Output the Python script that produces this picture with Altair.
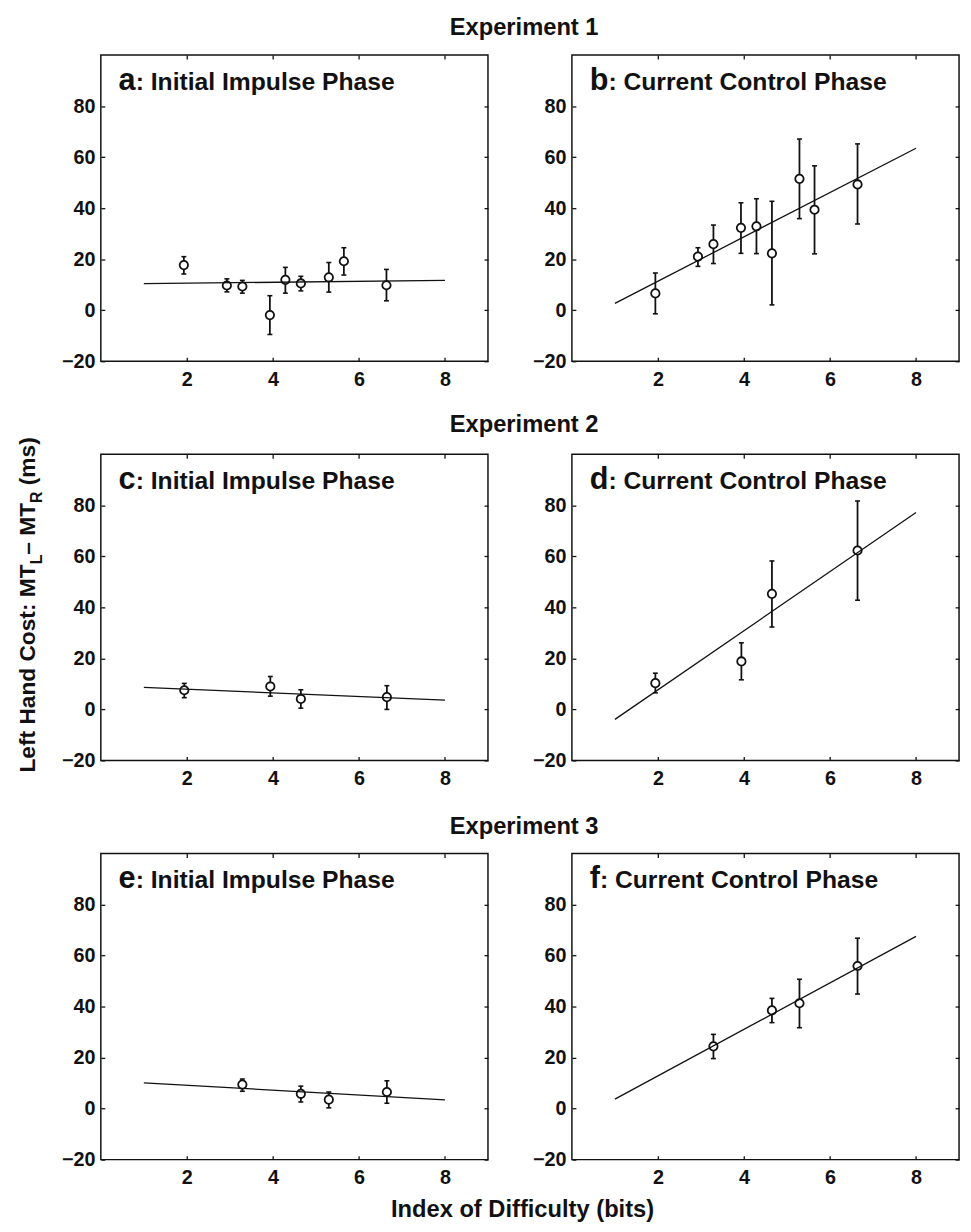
import altair as alt
import pandas as pd

# ---------------- data ----------------
FIT_X = [1, 8]
X_TICKS = [2, 4, 6, 8]
Y_TICKS = [-20, 0, 20, 40, 60, 80]

a_x = [1.93, 2.93, 3.29, 3.93, 4.29, 4.65, 5.30, 5.65, 6.64]
a_y = [17.7, 9.7, 9.3, -1.9, 11.9, 10.5, 12.9, 19.2, 9.8]
a_lo = [14.2, 7.2, 6.7, -9.5, 6.7, 7.6, 7.1, 13.8, 3.7]
a_hi = [21.0, 12.3, 11.7, 5.7, 16.8, 13.3, 18.7, 24.5, 16.0]
a_fit = [10.4, 11.7]

b_x = [1.94, 2.93, 3.29, 3.93, 4.29, 4.65, 5.29, 5.64, 6.64]
b_y = [6.6, 21.0, 25.9, 32.3, 32.9, 22.3, 51.5, 39.4, 49.3]
b_lo = [-1.4, 17.2, 18.3, 22.3, 22.2, 2.1, 35.9, 22.1, 33.8]
b_hi = [14.6, 24.5, 33.4, 42.1, 43.7, 42.7, 67.1, 56.6, 65.2]
b_fit = [2.7, 63.5]

c_x = [1.94, 3.94, 4.65, 6.65]
c_y = [7.5, 9.0, 4.1, 4.8]
c_lo = [4.6, 5.2, 0.5, 0.0]
c_hi = [10.2, 12.9, 7.7, 9.3]
c_fit = [8.6, 3.6]

d_x = [1.94, 3.94, 4.65, 6.64]
d_y = [10.3, 18.8, 45.3, 62.3]
d_lo = [6.5, 11.6, 32.3, 42.8]
d_hi = [14.2, 26.1, 58.2, 81.7]
d_fit = [-3.9, 77.2]

e_x = [3.29, 4.65, 5.30, 6.65]
e_y = [9.4, 5.8, 3.5, 6.5]
e_lo = [6.8, 2.6, 0.3, 2.1]
e_hi = [11.6, 8.8, 6.5, 10.9]
e_fit = [10.1, 3.4]

f_x = [3.29, 4.65, 5.29, 6.64]
f_y = [24.4, 38.5, 41.3, 55.9]
f_lo = [19.6, 33.7, 31.7, 44.9]
f_hi = [29.1, 43.2, 50.7, 66.8]
f_fit = [3.7, 67.5]

panel_letters = ["a", "b", "c", "d", "e", "f"]
panel_names = [": Initial Impulse Phase", ": Current Control Phase"] * 3
experiments = ["Experiment 1", "Experiment 2", "Experiment 3"]
x_title = "Index of Difficulty (bits)"
y_title_parts = ["Left Hand Cost: MT", "L", "– MT", "R", " (ms)"]

# ---------------- styling ----------------
FONT = "Liberation Sans"
INK = "#111111"
W, H = 392, 310
ROW_GAP = 94.2

# Helvetica/Arial bold advance widths (per 1000 em) for text placement
ADV = {'L': 611, 'e': 556, 'f': 333, 't': 333, ' ': 278, 'H': 722, 'a': 556,
       'n': 611, 'd': 611, 'C': 722, 'o': 611, 's': 556, ':': 333, 'M': 833,
       'T': 611, '–': 556, '(': 333, 'm': 889, ')': 333, 'R': 722, 'b': 611,
       'c': 556}


def tw(s, size):
    return sum(ADV.get(ch, 556) for ch in s) * size / 1000.0


XSC = alt.Scale(domain=[0, 9], nice=False, zero=False)
YSC = alt.Scale(domain=[-20, 100], nice=False, zero=False)


def ax(orient, values, labels=True):
    pad = 8.5 if orient == "bottom" else 6
    return alt.Axis(orient=orient, values=values, offset=-4, tickSize=4,
                    tickWidth=1.3, tickColor=INK, domain=False, grid=False,
                    title=None, labels=labels, format="d", labelFont=FONT,
                    labelFontSize=20, labelFontWeight="bold", labelColor=INK,
                    labelPadding=pad, labelOverlap=False)


def text_layer(txt, x, y, size, align="left", angle=0, baseline="alphabetic"):
    kw = dict(align=align, baseline=baseline, font=FONT, fontSize=size,
              fontWeight="bold", color=INK)
    if angle:
        kw["angle"] = angle
    return alt.Chart(pd.DataFrame({"t": [txt]})).mark_text(**kw).encode(
        x=alt.value(x), y=alt.value(y), text="t:N")


def panel(idx, xs, ys, lo, hi, fit, extra=()):
    pts = pd.DataFrame({"x": xs, "y": ys, "lo": lo, "hi": hi})
    fitdf = pd.DataFrame({"x": FIT_X, "y": fit})
    base = alt.Chart(pts)
    bars = base.mark_rule(color=INK, strokeWidth=1.8).encode(
        x=alt.X("x:Q", scale=XSC, axis=ax("bottom", X_TICKS)),
        y=alt.Y("lo:Q", scale=YSC, axis=ax("left", Y_TICKS)),
        y2="hi:Q")
    cap_lo = base.mark_tick(orient="horizontal", size=5, thickness=1.6,
                            color=INK, opacity=1).encode(
        x=alt.X("x:Q", axis=None), y=alt.Y("lo:Q", axis=None))
    cap_hi = base.mark_tick(orient="horizontal", size=5, thickness=1.6,
                            color=INK, opacity=1).encode(
        x=alt.X("x:Q", axis=None), y=alt.Y("hi:Q", axis=None))
    dots = base.mark_point(shape="circle", filled=True, fill="white",
                           stroke=INK, strokeWidth=1.8, size=72,
                           opacity=1).encode(
        x=alt.X("x:Q", axis=None), y=alt.Y("y:Q", axis=None))
    line = alt.Chart(fitdf).mark_line(color=INK, strokeWidth=1.3).encode(
        x=alt.X("x:Q", scale=XSC, axis=ax("top", X_TICKS, labels=False)),
        y=alt.Y("y:Q", scale=YSC, axis=ax("right", Y_TICKS, labels=False)))
    letter = panel_letters[idx]
    t1 = text_layer(letter, 18, 35, 31)
    t2 = text_layer(panel_names[idx], 18 + tw(letter, 31), 35, 25)
    layers = [bars, cap_lo, cap_hi, dots, line, t1, t2] + list(extra)
    return alt.layer(*layers).resolve_axis(
        x="independent", y="independent").properties(width=W, height=H)


EXP_X = 428.6

# y-axis title pieces (rotated), centred on the figure's middle
MAIN, SUB, SUB_SHIFT = 23, 16, 7
sizes = [MAIN, SUB, MAIN, SUB, MAIN]
shifts = [0, SUB_SHIFT, 0, SUB_SHIFT, 0]
total = sum(tw(p, s) for p, s in zip(y_title_parts, sizes))
ypos = 152.5 + total / 2
ytitle_layers = []
for p, s, sh in zip(y_title_parts, sizes, shifts):
    lead = len(p) - len(p.lstrip(" "))
    start = ypos - tw(" " * lead, s)
    ytitle_layers.append(text_layer(p.strip(" "), -67 + sh, start, s, angle=270))
    ypos -= tw(p, s)

pa = panel(0, a_x, a_y, a_lo, a_hi, a_fit,
           [text_layer(experiments[0], EXP_X, -20, 24, align="center")])
pb = panel(1, b_x, b_y, b_lo, b_hi, b_fit)
pc = panel(2, c_x, c_y, c_lo, c_hi, c_fit,
           [text_layer(experiments[1], EXP_X, -22.5, 24, align="center")] + ytitle_layers)
pd_ = panel(3, d_x, d_y, d_lo, d_hi, d_fit)
pe = panel(4, e_x, e_y, e_lo, e_hi, e_fit,
           [text_layer(experiments[2], EXP_X, -20, 24, align="center"),
            text_layer(x_title, 427, 368.4, 24, align="center")])
pf = panel(5, f_x, f_y, f_lo, f_hi, f_fit)

chart = alt.concat(
    pa, pb, pc, pd_, pe, pf, columns=2,
    spacing=alt.RowColnumber(row=ROW_GAP, column=85), bounds="flush",
).properties(
    padding={"left": 8, "top": 0, "right": 2, "bottom": 2},
    background="white",
).configure_view(stroke=INK, strokeWidth=1.5)

chart.save("out.html", embed_options={"renderer": "svg", "actions": False})
